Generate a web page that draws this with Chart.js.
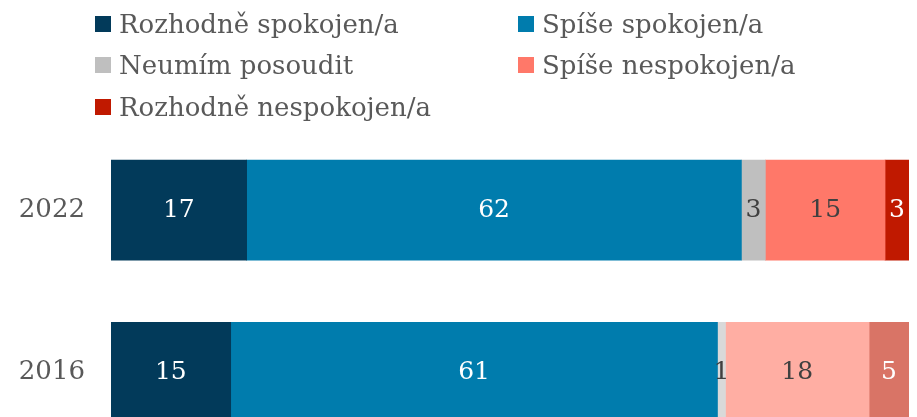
<!DOCTYPE html>
<html>
<head>
<meta charset="utf-8">
<script src="https://cdn.jsdelivr.net/npm/chart.js@4"></script>
<style>
  html, body { margin: 0; padding: 0; background: #fff; overflow: hidden; }
  #wrap { position: relative; width: 917px; height: 495px; }
  #legend {
    position: absolute; left: 95px; top: 3px;
    display: grid; grid-template-columns: 423px auto; grid-auto-rows: 41.5px;
    font-family: "DejaVu Serif", serif; font-size: 26px; color: #595959;
  }
  #legend .item { display: flex; align-items: center; white-space: nowrap; }
  #legend .box { width: 16px; height: 16px; margin-right: 8px; flex: none; }
</style>
</head>
<body>
<div id="wrap">
  <canvas id="chart" width="917" height="495"></canvas>
  <div id="legend"></div>
</div>
<script>
const years = ['2022', '2016'];
const seriesNames = ['Rozhodně spokojen/a', 'Spíše spokojen/a', 'Neumím posoudit', 'Spíše nespokojen/a', 'Rozhodně nespokojen/a'];
const veryHappy = [17, 15];
const ratherHappy = [62, 61];
const cantSay = [3, 1];
const ratherUnhappy = [15, 18];
const veryUnhappy = [3, 5];

// colours per bar: [2022, 2016]
const fills = [
  ['#023a5a', '#023a5a'],
  ['#007cad', '#007cad'],
  ['#bfbfbf', '#d9d9d9'],
  ['#ff7869', '#ffaea3'],
  ['#c01900', '#d97466']
];
const labelColors = ['#ffffff', '#ffffff', '#404040', '#404040', '#ffffff'];

const values = [veryHappy, ratherHappy, cantSay, ratherUnhappy, veryUnhappy];
const datasets = seriesNames.map((name, i) => ({
  label: name,
  data: values[i],
  backgroundColor: fills[i],
  borderWidth: 0,
  barThickness: 100,
  labelColor: labelColors[i]
}));

// legend in two columns, like the original
const legendEl = document.getElementById('legend');
datasets.forEach(ds => {
  const item = document.createElement('div');
  item.className = 'item';
  item.innerHTML = '<span class="box" style="background:' + ds.backgroundColor[0] + '"></span><span>' + ds.label + '</span>';
  legendEl.appendChild(item);
});

const valueLabels = {
  id: 'valueLabels',
  afterDatasetsDraw(chart) {
    const ctx = chart.ctx;
    ctx.save();
    ctx.font = '25px "DejaVu Serif", serif';
    ctx.textAlign = 'center';
    ctx.textBaseline = 'middle';
    chart.data.datasets.forEach((ds, i) => {
      const meta = chart.getDatasetMeta(i);
      meta.data.forEach((bar, j) => {
        const cx = (bar.x + bar.base) / 2;
        ctx.fillStyle = ds.labelColor;
        ctx.fillText(String(ds.data[j]), cx, bar.y);
      });
    });
    ctx.restore();
  }
};

new Chart(document.getElementById('chart'), {
  type: 'bar',
  data: { labels: years, datasets: datasets },
  options: {
    indexAxis: 'y',
    responsive: false,
    animation: false,
    layout: { padding: { top: 129, right: 8, left: 0, bottom: 0 } },
    plugins: {
      legend: { display: false },
      tooltip: { enabled: false }
    },
    scales: {
      x: { stacked: true, min: 0, max: 100, display: false },
      y: {
        stacked: true,
        grid: { display: false, drawTicks: false },
        border: { display: false },
        afterFit(scale) { scale.width = 111; },
        ticks: {
          padding: 26,
          color: '#595959',
          font: { family: '"DejaVu Serif", serif', size: 26 }
        }
      }
    }
  },
  plugins: [valueLabels]
});
</script>
</body>
</html>
